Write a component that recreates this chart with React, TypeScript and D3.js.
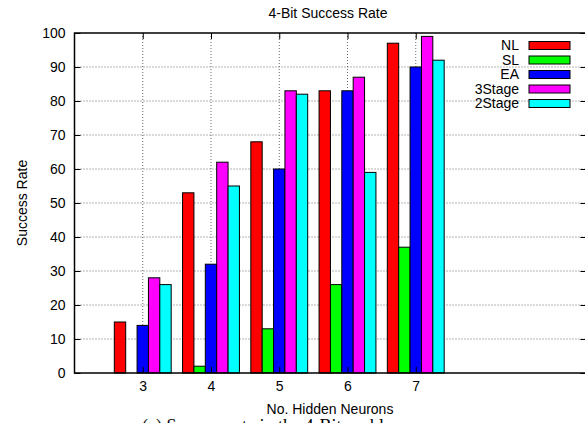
import React, { useEffect, useRef } from 'react';
import * as d3 from 'd3';

const categories = [3, 4, 5, 6, 7];
const seriesNames = ['NL', 'SL', 'EA', '3Stage', '2Stage'];
const seriesColors = ['#ff0000', '#00ff00', '#0000ff', '#ff00ff', '#00ffff'];
const nlValues = [15, 53, 68, 83, 97];
const slValues = [0, 2, 13, 26, 37];
const eaValues = [14, 32, 60, 83, 90];
const stage3Values = [28, 62, 83, 87, 99];
const stage2Values = [26, 55, 82, 59, 92];
const yTicks = [0, 10, 20, 30, 40, 50, 60, 70, 80, 90, 100];

const FONT = '"Liberation Sans", Arial, Helvetica, sans-serif';

export default function App() {
  const ref = useRef<SVGSVGElement>(null);

  useEffect(() => {
    const W = 585,
      H = 423;
    const margin = { left: 74.5, top: 33, bottom: 373 };
    const unit = 68.25;

    const svg = d3.select(ref.current);
    svg.selectAll('*').remove();

    const x = d3
      .scaleLinear()
      .domain([2, 9.5])
      .range([margin.left, margin.left + 7.5 * unit]);
    const y = d3.scaleLinear().domain([0, 100]).range([margin.bottom, margin.top]);
    const x0 = x(2),
      x1 = x(9.5);

    const series = [nlValues, slValues, eaValues, stage3Values, stage2Values];
    const barW = 1 / 6;

    // grid
    const grid = svg.append('g');
    grid
      .selectAll('line.h')
      .data(yTicks.filter((t) => t > 0 && t < 100))
      .enter()
      .append('line')
      .attr('x1', x0)
      .attr('x2', x1)
      .attr('y1', (d) => y(d))
      .attr('y2', (d) => y(d))
      .attr('stroke', '#444')
      .attr('stroke-width', 0.8)
      .attr('stroke-dasharray', '1,2');
    grid
      .selectAll('line.v')
      .data(categories)
      .enter()
      .append('line')
      .attr('x1', (d) => x(d))
      .attr('x2', (d) => x(d))
      .attr('y1', y(0))
      .attr('y2', y(100))
      .attr('stroke', '#444')
      .attr('stroke-width', 0.8)
      .attr('stroke-dasharray', '1,2');

    // bars
    series.forEach((vals, si) => {
      svg
        .append('g')
        .selectAll('rect')
        .data(vals.map((v, i) => ({ c: categories[i], v })))
        .enter()
        .filter((d) => d.v > 0)
        .append('rect')
        .attr('x', (d) => x(d.c + (si - 2.5) * barW))
        .attr('width', x(2 + barW) - x(2))
        .attr('y', (d) => y(d.v))
        .attr('height', (d) => y(0) - y(d.v))
        .attr('fill', seriesColors[si])
        .attr('stroke', '#000')
        .attr('stroke-width', 1);
    });

    // axes
    const axisStyle = (g: any) => {
      g.selectAll('text').style('font-family', FONT).style('font-size', '14px').attr('fill', '#000');
      g.selectAll('.domain').remove();
    };

    svg
      .append('g')
      .attr('transform', 'translate(' + x0 + ',0)')
      .call(d3.axisLeft(y).tickValues(yTicks).tickSize(-6).tickPadding(9))
      .call(axisStyle);
    svg
      .append('g')
      .attr('transform', 'translate(' + x1 + ',0)')
      .call(d3.axisRight(y).tickValues(yTicks).tickSize(-6).tickFormat(() => ''))
      .call(axisStyle);
    svg
      .append('g')
      .attr('transform', 'translate(0,' + y(0) + ')')
      .call(d3.axisBottom(x).tickValues(categories).tickSize(-6).tickPadding(8).tickFormat(d3.format('d')))
      .call(axisStyle);
    svg
      .append('g')
      .attr('transform', 'translate(0,' + y(100) + ')')
      .call(d3.axisTop(x).tickValues(categories).tickSize(-6).tickFormat(() => ''))
      .call(axisStyle);

    // frame
    svg
      .append('rect')
      .attr('x', x0)
      .attr('y', y(100))
      .attr('width', x1 - x0)
      .attr('height', y(0) - y(100))
      .attr('fill', 'none')
      .attr('stroke', '#000')
      .attr('stroke-width', 1.5);

    // titles
    svg
      .append('text')
      .attr('x', 328)
      .attr('y', 18)
      .attr('text-anchor', 'middle')
      .style('font-family', FONT)
      .style('font-size', '14px')
      .text('4-Bit Success Rate');
    svg
      .append('text')
      .attr('x', 330)
      .attr('y', 414)
      .attr('text-anchor', 'middle')
      .style('font-family', FONT)
      .style('font-size', '14px')
      .text('No. Hidden Neurons');
    svg
      .append('text')
      .attr('transform', 'translate(27,' + (y(50) ) + ') rotate(-90)')
      .attr('text-anchor', 'middle')
      .style('font-family', FONT)
      .style('font-size', '14px')
      .text('Success Rate');
    svg
      .append('text')
      .attr('x', 142)
      .attr('y', 432)
      .style('font-family', '"Liberation Serif", "Times New Roman", serif')
      .style('font-size', '18px')
      .text('(a) Success rate in the 4-Bit problem');

    // legend
    const legend = svg
      .selectAll('.legend')
      .data(seriesNames)
      .enter()
      .append('g')
      .attr('transform', (d, i) => 'translate(0,' + (45.5 + i * 14.5) + ')');
    legend
      .append('rect')
      .attr('x', 529)
      .attr('y', -4)
      .attr('width', 41)
      .attr('height', 8)
      .attr('fill', (d, i) => seriesColors[i])
      .attr('stroke', '#000')
      .attr('stroke-width', 1);
    legend
      .append('text')
      .attr('x', 519)
      .attr('dy', '0.35em')
      .attr('text-anchor', 'end')
      .style('font-family', FONT)
      .style('font-size', '14px')
      .text((d) => d);

    svg.attr('width', W).attr('height', H);
  }, []);

  return (
    <svg
      ref={ref}
      width={585}
      height={423}
      style={{ position: 'absolute', left: 0, top: 0, background: '#fff' }}
    />
  );
}
